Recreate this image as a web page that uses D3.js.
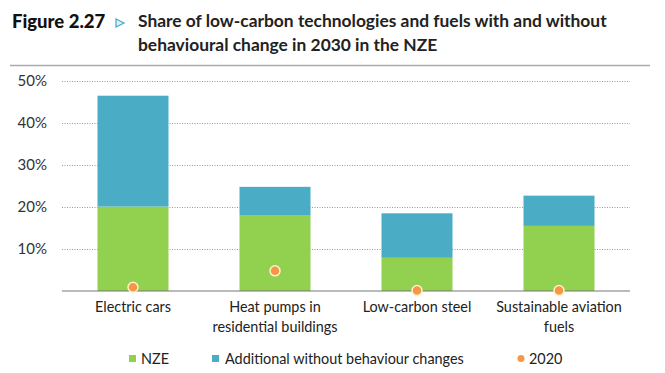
<!DOCTYPE html>
<html>
<head>
<meta charset="utf-8">
<script src="https://cdn.jsdelivr.net/npm/d3@7"></script>
<style>
body{margin:0;background:#fff;}
svg{font-family:Lato,"Open Sans",sans-serif;}
</style>
</head>
<body>
<svg id="chart" width="665" height="373"></svg>
<script>
// values, in %
var categories = ["Electric cars", "Heat pumps in|residential buildings", "Low-carbon steel", "Sustainable aviation|fuels"];
var nze = [20.1, 18.1, 7.9, 15.5];
var additional = [26.4, 6.7, 10.6, 7.2];
var y2020 = [0.9, 4.8, 0.1, 0.1];
var yTicks = [10, 20, 30, 40, 50];

var svg = d3.select("#chart");
var green = "#92d050", blue = "#4bacc6", orange = "#f79646";

// title
svg.append("text").attr("x", 12).attr("y", 28)
	.style("font-weight", 900).style("font-size", "18.5px").attr("fill", "#111")
	.text("Figure 2.27");
svg.append("path").attr("d", "M116,19 L124,23 L116,27 Z")
	.attr("fill", "#dff1f7").attr("stroke", "#4bacc6").attr("stroke-width", 1.3);
svg.append("text").attr("x", 138).attr("y", 27)
	.style("font-weight", 700).style("font-size", "17.4px").attr("fill", "#222")
	.text("Share of low-carbon technologies and fuels with and without");
svg.append("text").attr("x", 138).attr("y", 51)
	.style("font-weight", 700).style("font-size", "17.4px").attr("fill", "#222")
	.text("behavioural change in 2030 in the NZE");
svg.append("line").attr("x1", 10).attr("x2", 650).attr("y1", 65.5).attr("y2", 65.5)
	.attr("stroke", "#aaa").attr("stroke-width", 1.5);

var x = d3.scaleBand().domain(categories).range([62, 630]).paddingInner(0.5).paddingOuter(0.25);
var y = d3.scaleLinear().domain([0, 50]).range([291, 81]);

// grid
svg.append("g").selectAll("line").data(yTicks).join("line")
	.attr("x1", 62).attr("x2", 630)
	.attr("y1", function(d){ return y(d)+0.5; }).attr("y2", function(d){ return y(d)+0.5; })
	.attr("stroke", "#999").attr("stroke-dasharray", "1,1.5");

var yAxis = d3.axisLeft(y).tickValues(yTicks).tickSize(0).tickPadding(15).tickFormat(function(d){ return d + "%"; });
var gy = svg.append("g").attr("transform", "translate(62,0)").call(yAxis);
gy.select(".domain").remove();
gy.selectAll("text").style("font-size", "15px").attr("fill", "#333").style("font-family", "Lato,sans-serif");

// bars
var bars = svg.append("g");
categories.forEach(function(c, i){
	bars.append("rect").attr("x", x(c)).attr("width", x.bandwidth())
		.attr("y", y(nze[i])).attr("height", y(0) - y(nze[i])).attr("fill", green);
	bars.append("rect").attr("x", x(c)).attr("width", x.bandwidth())
		.attr("y", y(nze[i] + additional[i])).attr("height", y(nze[i]) - y(nze[i] + additional[i])).attr("fill", blue);
});

// baseline
svg.append("line").attr("x1", 62).attr("x2", 630).attr("y1", y(0)).attr("y2", y(0))
	.attr("stroke", "#777").attr("stroke-width", 1);

// 2020 dots
svg.append("g").selectAll("circle").data(categories).join("circle")
	.attr("cx", function(d){ return x(d) + x.bandwidth()/2; })
	.attr("cy", function(d, i){ return y(y2020[i]); })
	.attr("r", 5).attr("fill", orange).attr("stroke", "#fdf2c8").attr("stroke-width", 1.5);

// category labels
var xl = svg.append("g");
categories.forEach(function(c){
	var lines = c.split("|");
	var t = xl.append("text").attr("text-anchor", "middle")
		.attr("x", x(c) + x.bandwidth()/2).attr("y", 312)
		.style("font-size", "14.4px").attr("fill", "#222");
	lines.forEach(function(l, j){
		t.append("tspan").attr("x", x(c) + x.bandwidth()/2).attr("dy", j ? 19.5 : 0).text(l);
	});
});

// legend
var lg = svg.append("g").style("font-size", "14.4px").attr("fill", "#222");
lg.append("rect").attr("x", 129).attr("y", 355).attr("width", 7).attr("height", 7).attr("fill", green);
lg.append("text").attr("x", 141).attr("y", 364).text("NZE");
lg.append("rect").attr("x", 212).attr("y", 355).attr("width", 7).attr("height", 7).attr("fill", blue);
lg.append("text").attr("x", 225).attr("y", 364).text("Additional without behaviour changes");
lg.append("circle").attr("cx", 521).attr("cy", 358.5).attr("r", 3.5).attr("fill", orange);
lg.append("text").attr("x", 529).attr("y", 364).text("2020");
</script>
</body>
</html>
